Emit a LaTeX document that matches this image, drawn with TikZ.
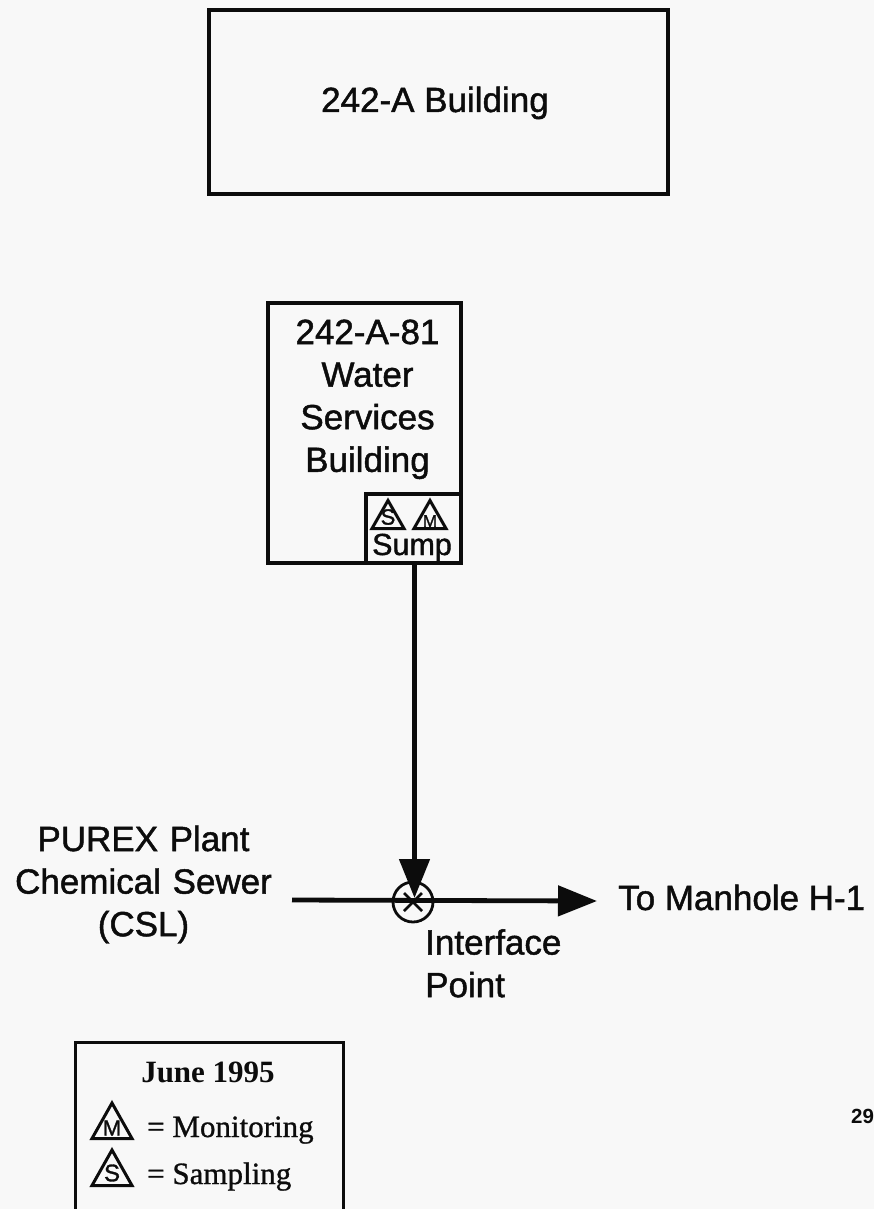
\documentclass[tikz,border=0pt]{standalone}
\usepackage{fontspec}
\setmainfont{Liberation Sans}[FakeBold=1.3]
\newfontfamily\boldsans{Liberation Sans Bold}
\newfontfamily\serifleg{Liberation Serif}[FakeBold=0.9]
\newfontfamily\seriflegb{Liberation Serif Bold}
\usetikzlibrary{arrows.meta}
\definecolor{paper}{HTML}{F8F8F8}
\definecolor{ink}{HTML}{0C0C0C}
\tikzset{
  box/.style={draw=ink,line width=3.8pt,fill=none},
  flow/.style={draw=ink,line width=4.8pt},
  label/.style={text=ink,font=\fontsize{35}{42.6}\selectfont,align=center,inner sep=0pt,anchor=base},
  leg/.style={text=ink,font=\serifleg\fontsize{31}{34}\selectfont,anchor=base west,inner sep=0pt},
  tri/.style={draw=ink,line width=3pt,line join=miter},
  trilab/.style={text=ink,inner sep=0pt},
  tipstyle/.style={-{Triangle[length=39pt,width=30pt]}}
}
\newcommand{\tria}[4]{% x, apex y, halfwidth, base y
  \draw[tri] (#1,#2) -- (#1-#3,#4) -- (#1+#3,#4) -- cycle;
}
\begin{document}
\begin{tikzpicture}[x=1pt,y=-1pt]
\useasboundingbox (0,0) rectangle (874,1209);
\fill[paper] (0,0) rectangle (874,1209);

\node[box,minimum width=459pt,minimum height=184pt,anchor=north west] (main) at (207,8) {};
\node[label] (mainlab) at (435,112) {242-A Building};

\node[box,minimum width=193pt,minimum height=260pt,anchor=north west] (water) at (266,301) {};
\node[label,anchor=north,text width=190pt] (waterlab) at (367.5,314) {\strut 242-A-81\\Water\\Services\\Building};
\node[box,minimum width=95pt,minimum height=69pt,anchor=north west] (sump) at (364,492) {};
\node[label,font=\fontsize{30.5}{34}\selectfont] (sumplab) at (412,555) {Sump};

\tria{388}{500.5}{16}{528.5}
\node[trilab,font=\fontsize{22}{24}\selectfont] (s1) at (388,517) {S};
\tria{430}{500.5}{16}{528.5}
\node[trilab,font=\fontsize{17}{20}\selectfont] (m1) at (430,521) {M};

\node[draw=ink,circle,line width=2.8pt,minimum size=40pt,inner sep=0pt] (iface) at (413,902) {};
\draw[ink,line width=2.8pt] (iface.center) ++(-9,-9) -- ++(18,18) (iface.center) ++(9,-9) -- ++(-18,18);

\coordinate (cslstart) at (292,900);
\coordinate (h1end) at (597,901);
\draw[flow,tipstyle] (cslstart) -- (h1end);
\coordinate (vtip) at (414.5,898);
\draw[flow,tipstyle] (sump.south-|vtip) -- (vtip);

\node[label,anchor=north,text width=270pt] (csl) at (143.5,821) {\strut PUREX Plant\\Chemical Sewer\\(CSL)};
\node[label,anchor=base west] (h1) at (618,910) {To Manhole H-1};
\node[label,anchor=north west,align=left] (ifl) at (425,924.5) {\strut Interface\\Point};

\draw[ink,line width=3pt] (75,1209) -- (75,1042) -- (343,1042) -- (343,1209);
\node[text=ink,inner sep=0pt,anchor=base,font=\seriflegb\fontsize{31}{34}\selectfont] (june) at (208,1082) {June 1995};
\tria{112}{1103}{20}{1138.5}
\node[trilab,font=\fontsize{22}{24}\selectfont] (m2) at (112,1128) {M};
\node[leg] (mon) at (147,1137) {= Monitoring};
\tria{112}{1150}{20}{1185.5}
\node[trilab,font=\fontsize{24}{26}\selectfont] (s2) at (112,1173) {S};
\node[leg] (sam) at (147,1184) {= Sampling};
\node[text=ink,inner sep=0pt,anchor=base west,font=\boldsans\fontsize{20.5}{24}\selectfont] (pg) at (851,1123) {29};
\end{tikzpicture}
\end{document}
